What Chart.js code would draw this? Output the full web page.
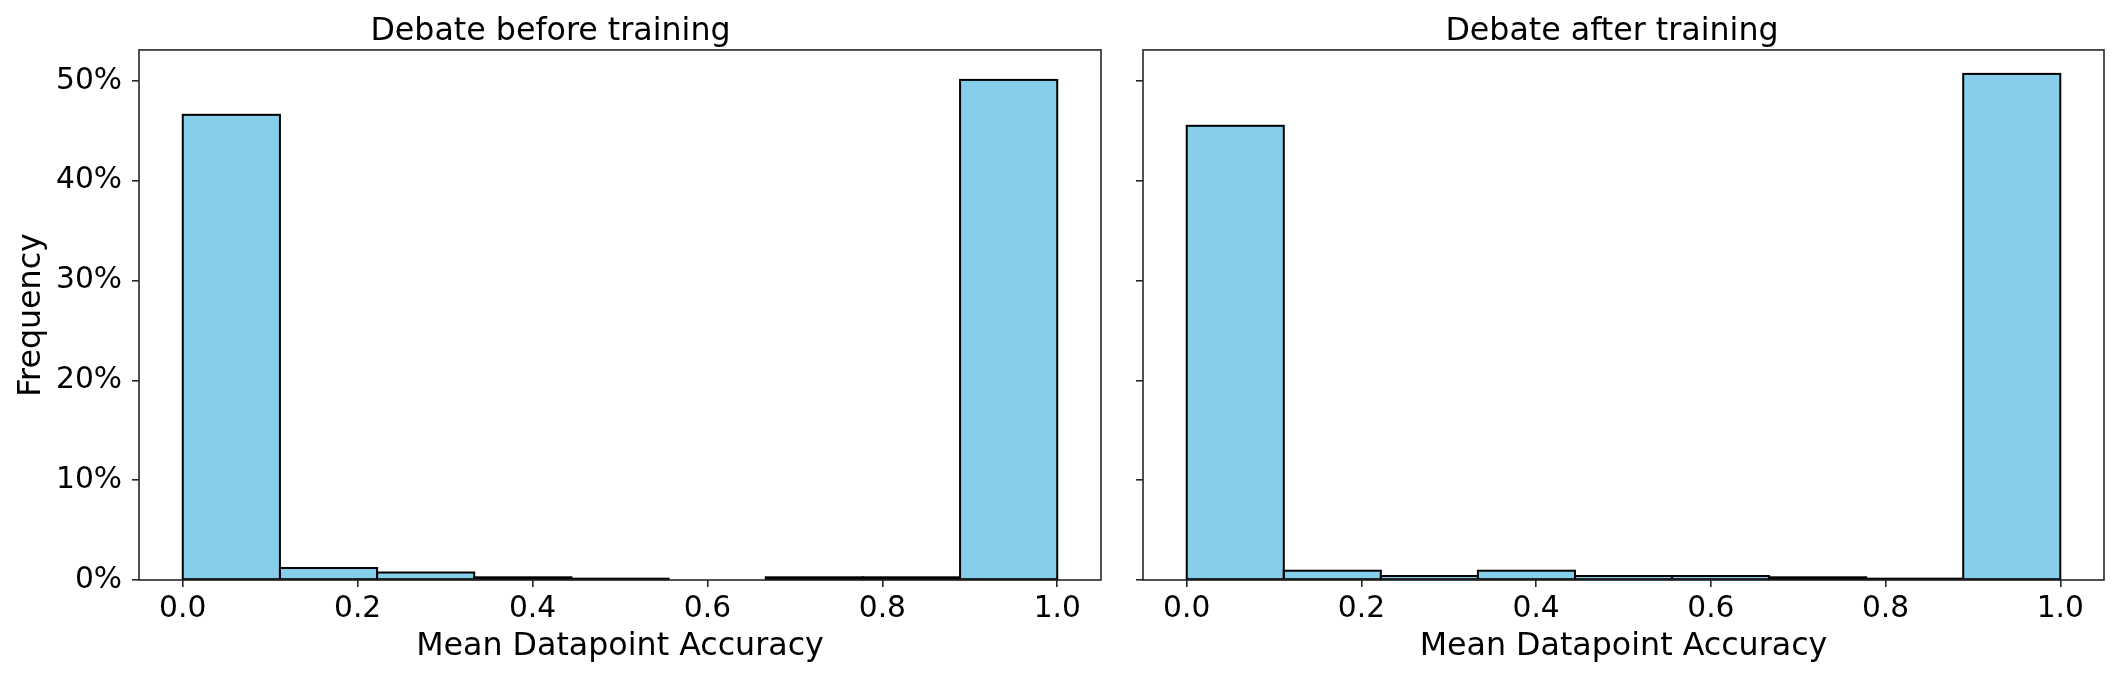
<!DOCTYPE html>
<html><head><meta charset="utf-8">
<script src="https://cdn.jsdelivr.net/npm/chart.js@4.4.1/dist/chart.umd.min.js"></script>
<style>
html,body{margin:0;padding:0;background:#fff;}
#wrap{position:relative;width:2119px;height:679px;background:#fff;}
canvas{position:absolute;top:0;}
</style>
</head><body>
<div id="wrap">
<canvas id="c1" width="1120" height="679" style="left:0px;width:1120px;height:679px"></canvas>
<canvas id="c2" width="999" height="679" style="left:1120px;width:999px;height:679px"></canvas>
</div>
<script>
// ---- data ----
const binCenters = [0.0556, 0.1667, 0.2778, 0.3889, 0.5, 0.6111, 0.7222, 0.8333, 0.9444];
const beforeTraining = [46.6, 1.2, 0.75, 0.27, 0.13, 0, 0.27, 0.27, 50.1];
const afterTraining  = [45.5, 0.93, 0.4, 0.93, 0.4, 0.4, 0.27, 0.13, 50.7];
const xTicks = [0, 0.2, 0.4, 0.6, 0.8, 1.0];
const yTicks = [0, 10, 20, 30, 40, 50];
const panelTitles = ['Debate before training', 'Debate after training'];
const xLabel = 'Mean Datapoint Accuracy';
const yLabel = 'Frequency';

const F = "'DejaVu Sans', sans-serif";
const AX = '#262626';

// stroke bar edges centred on the bar outline (matplotlib style), using the library's bar elements
const edgePlugin = {
  id: 'edges',
  afterDatasetsDraw(chart) {
    const ctx = chart.ctx;
    ctx.save();
    ctx.strokeStyle = '#000000';
    ctx.lineWidth = 2;
    chart.getDatasetMeta(0).data.forEach(bar => {
      const p = bar.getProps(['x', 'y', 'base', 'width'], true);
      const h = p.base - p.y;
      if (Math.abs(h) < 0.01) return;
      ctx.strokeRect(p.x - p.width / 2, p.y, p.width, h);
    });
    const a = chart.chartArea;
    ctx.strokeStyle = AX;
    ctx.lineWidth = 1.6;
    ctx.strokeRect(a.left, a.top, a.right - a.left, a.bottom - a.top);
    ctx.restore();
  }
};

function makeChart(id, values, title, showY, yAxisWidth, padRight) {
  return new Chart(document.getElementById(id), {
    type: 'bar',
    data: {
      datasets: [{
        data: binCenters.map((x, i) => ({x: x, y: values[i]})),
        backgroundColor: '#87CEEB',
        borderWidth: 0,
        inflateAmount: 0,
        barPercentage: 1,
        categoryPercentage: 1
      }]
    },
    options: {
      responsive: false,
      animation: false,
      devicePixelRatio: 1,
      layout: {padding: {left: 0, right: padRight, top: 0, bottom: 0}},
      plugins: {
        legend: {display: false},
        tooltip: {enabled: false},
        title: {
          display: true, text: title, color: '#000',
          font: {family: F, size: 31.7, weight: 'normal', lineHeight: 1.15},
          padding: {top: 13.5, bottom: 0}
        }
      },
      scales: {
        x: {
          type: 'linear', min: -0.05, max: 1.05, offset: false,
          afterBuildTicks: s => { s.ticks = xTicks.map(v => ({value: v})); },
          afterFit: s => { s.height = 99; },
          grid: {display: true, offset: false, drawOnChartArea: false, drawTicks: true, tickLength: 7, color: AX, lineWidth: 1.6},
          border: {display: false},
          ticks: {color: '#000', font: {family: F, size: 29.7, lineHeight: 1.2}, padding: 4, maxRotation: 0, autoSkip: false,
                  callback: v => Number(v).toFixed(1)},
          title: {display: true, text: xLabel, color: '#000', font: {family: F, size: 31.7, lineHeight: 1.2}, padding: {top: 0, bottom: 13}}
        },
        y: {
          type: 'linear', min: 0, max: 53.1,
          afterBuildTicks: s => { s.ticks = yTicks.map(v => ({value: v})); },
          afterFit: s => { s.width = yAxisWidth; },
          grid: {display: true, drawOnChartArea: false, drawTicks: true, tickLength: 7, color: AX, lineWidth: 1.6},
          border: {display: false},
          ticks: {color: '#000', font: {family: F, size: 29.7, lineHeight: 1.2}, padding: 10,
                  callback: v => showY ? (v + '%') : ''},
          title: {display: showY, text: yLabel, color: '#000', font: {family: F, size: 31.7, lineHeight: 1.2}, padding: {top: 13, bottom: 0}}
        }
      }
    },
    plugins: [edgePlugin]
  });
}

makeChart('c1', beforeTraining, panelTitles[0], true, 139, 19);
makeChart('c2', afterTraining, panelTitles[1], false, 23, 15);
</script>
</body></html>
